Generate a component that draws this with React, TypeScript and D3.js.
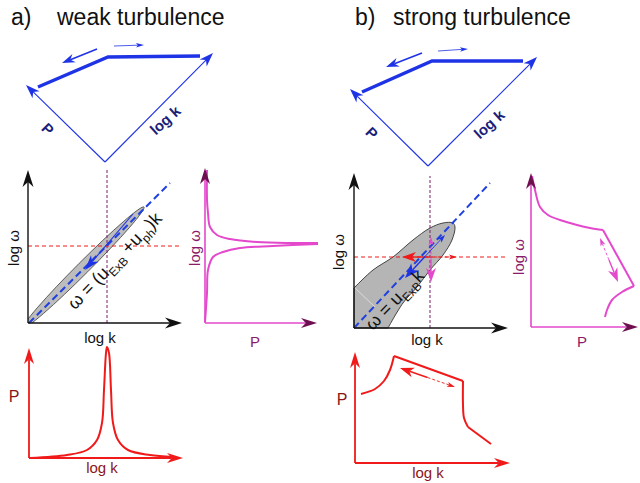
import React from "react";
import * as d3 from "d3";

type P = [number, number];

// ---------------- titles ----------------
const panelTags = ["a)", "b)"];
const panelTitles = ["weak turbulence", "strong turbulence"];

// ---------------- top panels (relative to lower vertex, x right, y up) ----------------
const topA_pTip: P = [-79, 77];
const topA_kTip: P = [108, 109];
const topA_spectrum: P[] = [[-67, 75], [3, 105], [95, 106]];
const topA_back: P[] = [[-8, 113], [-43, 99]];
const topA_fwd: P[] = [[9, 116], [39, 117]];

const topB_pTip: P = [-78, 77];
const topB_kTip: P = [109, 109];
const topB_spectrum: P[] = [[-66, 74], [4, 105], [95, 105]];
const topB_back: P[] = [[-6, 113], [-42, 99]];
const topB_fwd: P[] = [[10, 115], [40, 117]];

// ---------------- middle-left: dispersion (weak) ----------------
const midA_disp: P[] = [[1, 0], [142, 140]];
const midA_lensEnds: P[] = [[-5, -5], [116, 116]];
const midA_k0 = 79;
const midA_w0 = 77;
const midA_arrow: P[] = [[105, 109], [57, 53]];

// ---------------- P(omega) weak ----------------
const pwA_upper: P[] = [[2, 153], [2, 123], [3, 110], [5, 96], [12, 88], [25, 84], [52, 81], [85, 80], [113, 80]];
const pwA_lower: P[] = [[0, 1], [2, 30], [3, 53], [8, 66], [18, 71], [35, 75], [68, 77], [113, 79]];

// ---------------- P(k) weak ----------------
const pkA_curve: P[] = [[1, 0], [38, 3], [58, 8], [68, 18], [73, 35], [75, 68], [77, 105], [78, 111], [80, 105], [82, 68], [84, 35], [89, 18], [99, 8], [121, 3], [144, 1]];

// ---------------- middle-right: dispersion (strong) ----------------
const midB_disp: P[] = [[0, 0], [136, 145]];
const midB_lensUpper: P[] = [[0, 40], [19, 58], [39, 71], [59, 88], [76, 100], [89, 105], [99, 105], [101, 101]];
const midB_lensLower: P[] = [[101, 101], [98, 88], [89, 73], [76, 58], [63, 41], [49, 25], [34, 0]];
const midB_faint: P[] = [[1, 40], [21, 21]];
const midB_k0 = 76;
const midB_w0 = 71;
const midB_redL: P = [48, 71];
const midB_redR: P = [103, 71];
const midB_magDown: P = [77, 46];
const midB_magUp: P = [77, 91];
const midB_blueDown: P = [51, 50];
const midB_blueUp: P = [91, 93];

// ---------------- P(omega) strong ----------------
const pwB_top: P[] = [[1, 151], [4, 137], [9, 120], [17, 112], [29, 107], [46, 102], [59, 99], [72, 97]];
const pwB_edge: P[] = [[72, 97], [103, 41]];
const pwB_tail: P[] = [[103, 41], [91, 35], [81, 27], [76, 17], [74, 10]];
const pwB_arrow: P[] = [[69, 89], [87, 45]];

// ---------------- P(k) strong ----------------
const pkB_rise: P[] = [[6, 69], [20, 74], [29, 82], [35, 93], [39, 107]];
const pkB_slope: P[] = [[39, 107], [108, 82]];
const pkB_drop: P[] = [[108, 82], [108, 58], [109, 45], [113, 36]];
const pkB_tail: P[] = [[113, 36], [136, 19]];
const pkB_arrow: P[] = [[45, 95], [100, 76]];

// ---------------- style ----------------
const FONT = "'Liberation Sans', Arial, Helvetica, sans-serif";
const BLUE = "#1f33e6";
const NAVY = "#1c1f7a";
const PINK = "#e448cc";
const PURPLE = "#6e1050";
const PURPLE_TXT = "#8a1a6a";
const RED = "#f01a1a";
const DARKRED = "#8b1515";

function frame(ox: number, oy: number, xl: number, yl: number, xmin = 0, ymin = 0) {
  const x = d3.scaleLinear().domain([xmin, xl]).range([ox + xmin, ox + xl]);
  const y = d3.scaleLinear().domain([ymin, yl]).range([oy - ymin, oy - yl]);
  const pt = (p: P): P => [x(p[0]), y(p[1])];
  return { x, y, pt, ox, oy, xl, yl };
}

function headPath(from: P, to: P, L: number, hw: number, notch: number) {
  const dx = to[0] - from[0], dy = to[1] - from[1];
  const len = Math.hypot(dx, dy) || 1;
  const ux = dx / len, uy = dy / len;
  const px = -uy, py = ux;
  const bx = to[0] - ux * L, by = to[1] - uy * L;
  const nx = to[0] - ux * (L - notch), ny = to[1] - uy * (L - notch);
  const d = `M${to[0]},${to[1]}L${bx + px * hw},${by + py * hw}L${nx},${ny}L${bx - px * hw},${by - py * hw}Z`;
  return { d, end: [nx, ny] as P };
}

function Arrow(props: { from: P; to: P; color: string; width: number; L: number; hw: number; notch?: number; headColor?: string; dash?: string; noShaft?: boolean }) {
  const { from, to, color, width, L, hw } = props;
  const h = headPath(from, to, L, hw, props.notch ?? L * 0.3);
  return (
    <g>
      {!props.noShaft && (
        <line x1={from[0]} y1={from[1]} x2={h.end[0]} y2={h.end[1]} stroke={color} strokeWidth={width} strokeDasharray={props.dash} />
      )}
      <path d={h.d} fill={props.headColor ?? color} />
    </g>
  );
}

const curve = (f: ReturnType<typeof frame>, pts: P[]) =>
  d3.line<P>().x((d) => f.x(d[0])).y((d) => f.y(d[1])).curve(d3.curveCatmullRom.alpha(0.5))(pts) || "";
const straight = (f: ReturnType<typeof frame>, pts: P[]) =>
  d3.line<P>().x((d) => f.x(d[0])).y((d) => f.y(d[1]))(pts) || "";

function Axes(props: { f: ReturnType<typeof frame>; color: string; headColor: string; width: number; L: number; hw: number }) {
  const { f } = props;
  const o: P = [f.ox, f.oy];
  return (
    <g>
      <Arrow from={o} to={[f.ox, f.oy - f.yl]} color={props.color} headColor={props.headColor} width={props.width} L={props.L} hw={props.hw} />
      <Arrow from={o} to={[f.ox + f.xl, f.oy]} color={props.color} headColor={props.headColor} width={props.width} L={props.L} hw={props.hw} />
    </g>
  );
}

function TopPanel(props: { ox: number; oy: number; pTip: P; kTip: P; spectrum: P[]; back: P[]; fwd: P[]; pLabel: P; kLabel: P }) {
  const f = frame(props.ox, props.oy, 120, 130, -90, 0);
  const o = f.pt([0, 0]);
  return (
    <g>
      <Arrow from={o} to={f.pt(props.pTip)} color={BLUE} width={1.1} L={14} hw={5} notch={4} />
      <Arrow from={o} to={f.pt(props.kTip)} color={BLUE} width={1.1} L={14} hw={5} notch={4} />
      <path d={straight(f, props.spectrum)} fill="none" stroke={BLUE} strokeWidth={3.4} strokeLinejoin="miter" />
      <Arrow from={f.pt(props.back[0])} to={f.pt(props.back[1])} color={BLUE} width={1.6} L={13} hw={4.5} notch={4} />
      <Arrow from={f.pt(props.fwd[0])} to={f.pt(props.fwd[1])} color={BLUE} width={0.8} L={8} hw={2.2} notch={2} />
      <text transform={`translate(${f.x(props.pLabel[0])},${f.y(props.pLabel[1])}) rotate(45)`} textAnchor="middle" dominantBaseline="central" fontSize={15} fontWeight="bold" fill={NAVY}>P</text>
      <text transform={`translate(${f.x(props.kLabel[0])},${f.y(props.kLabel[1])}) rotate(-42)`} textAnchor="middle" dominantBaseline="central" fontSize={15} fontWeight="bold" fill={NAVY}>log k</text>
    </g>
  );
}

function doubleArrow(a: P, b: P, color: string, bigAtB: boolean, keyName: string, dash = "3,2") {
  const mid: P = [(a[0] + b[0]) / 2, (a[1] + b[1]) / 2];
  const bigTip = bigAtB ? b : a;
  const smallTip = bigAtB ? a : b;
  return (
    <g key={keyName}>
      <Arrow from={mid} to={smallTip} color={color} width={0.9} L={8} hw={2.6} notch={2} dash={dash} />
      <Arrow from={mid} to={bigTip} color={color} width={1.4} L={14} hw={5} notch={4} />
    </g>
  );
}

export default function App() {
  // layout frames
  const fMidA = frame(28, 323, 154, 153);
  const fPwA = frame(205, 323, 112, 155);
  const fPkA = frame(29, 458, 154, 110);
  const fMidB = frame(354, 328, 154, 155);
  const fPwB = frame(531, 327, 107, 154);
  const fPkB = frame(355, 463, 155, 111);

  // lens (weak)
  const l1 = fMidA.pt(midA_lensEnds[0]);
  const l2 = fMidA.pt(midA_lensEnds[1]);
  const lc: P = [(l1[0] + l2[0]) / 2, (l1[1] + l2[1]) / 2];
  const lAng = (Math.atan2(l2[1] - l1[1], l2[0] - l1[0]) * 180) / Math.PI;
  const lRx = Math.hypot(l2[0] - l1[0], l2[1] - l1[1]) / 2;

  // lens (strong)
  const lensB =
    (d3.line<P>().x((d) => fMidB.x(d[0])).y((d) => fMidB.y(d[1])).curve(d3.curveCatmullRom.alpha(0.5))([...midB_lensUpper, ...midB_lensLower.slice(1)]) || "") +
    `L${fMidB.x(0)},${fMidB.y(0)}Z`;

  const blueC: P = [(midB_blueDown[0] + midB_blueUp[0]) / 2, (midB_blueDown[1] + midB_blueUp[1]) / 2];

  return (
    <svg width={640} height={483} style={{ position: "absolute", left: 0, top: 0, background: "#fff" }} fontFamily={FONT}>
      {/* titles */}
      <text x={11} y={25} fontSize={23} fill="#111">{panelTags[0]}</text>
      <text x={57} y={25} fontSize={23} fill="#111">{panelTitles[0]}</text>
      <text x={355} y={25} fontSize={23} fill="#111">{panelTags[1]}</text>
      <text x={393} y={25} fontSize={23} fill="#111">{panelTitles[1]}</text>

      {/* top schematic panels */}
      <TopPanel ox={105} oy={162} pTip={topA_pTip} kTip={topA_kTip} spectrum={topA_spectrum} back={topA_back} fwd={topA_fwd} pLabel={[-57, 33]} kLabel={[60, 42]} />
      <TopPanel ox={428} oy={166} pTip={topB_pTip} kTip={topB_kTip} spectrum={topB_spectrum} back={topB_back} fwd={topB_fwd} pLabel={[-56, 33]} kLabel={[61, 42]} />

      {/* ---- middle-left: weak dispersion ---- */}
      <defs>
        <clipPath id="clipA">
          <rect x={fMidA.ox} y={fMidA.oy - fMidA.yl} width={fMidA.xl} height={fMidA.yl} />
        </clipPath>
      </defs>
      <g clipPath="url(#clipA)">
        <ellipse cx={lc[0]} cy={lc[1]} rx={lRx} ry={6} transform={`rotate(${lAng},${lc[0]},${lc[1]})`} fill="#bdbdbd" stroke="#444" strokeWidth={0.8} />
      </g>
      <line x1={fMidA.x(midA_k0)} y1={fMidA.y(0)} x2={fMidA.x(midA_k0)} y2={fMidA.y(155)} stroke="#7a1f6a" strokeWidth={1} strokeDasharray="3,2" />
      <line x1={fMidA.x(0)} y1={fMidA.y(midA_w0)} x2={fMidA.x(154)} y2={fMidA.y(midA_w0)} stroke={RED} strokeWidth={1} strokeDasharray="4,3" />
      <path d={straight(fMidA, midA_disp)} stroke="#2040e0" strokeWidth={2} strokeDasharray="7,4" fill="none" />
      <Arrow from={fMidA.pt(midA_arrow[0])} to={fMidA.pt(midA_arrow[1])} color={BLUE} width={1.1} L={15} hw={5} notch={4} />
      <Axes f={fMidA} color="#111" headColor="#111" width={1.4} L={17} hw={5.5} />
      <text transform={`translate(${fMidA.x(91)},${fMidA.y(58)}) rotate(-46)`} textAnchor="middle" fontSize={18} fill="#111">
        ω = (u<tspan fontSize={12} dy={5}>ExB</tspan>
        <tspan dy={-5}> +u</tspan>
        <tspan fontSize={12} dy={5}>ph</tspan>
        <tspan dy={-5}>)k</tspan>
      </text>
      <text transform="translate(13,248) rotate(-90)" textAnchor="middle" dominantBaseline="central" fontSize={15} fill="#111">log ω</text>
      <text x={100} y={343} textAnchor="middle" fontSize={15} fill="#111">log k</text>

      {/* ---- P(omega) weak ---- */}
      <path d={curve(fPwA, pwA_upper)} fill="none" stroke={PINK} strokeWidth={2} />
      <path d={curve(fPwA, pwA_lower)} fill="none" stroke={PINK} strokeWidth={2} />
      <Axes f={fPwA} color={PINK} headColor={PURPLE} width={1.6} L={16} hw={5} />
      <text transform="translate(194,248) rotate(-90)" textAnchor="middle" dominantBaseline="central" fontSize={15} fill={PURPLE_TXT}>log ω</text>
      <text x={255} y={347} textAnchor="middle" fontSize={15} fill={PURPLE_TXT}>P</text>

      {/* ---- P(k) weak ---- */}
      <path d={curve(fPkA, pkA_curve)} fill="none" stroke={RED} strokeWidth={2} />
      <Axes f={fPkA} color={RED} headColor={RED} width={1.8} L={16} hw={5} />
      <text x={14} y={402} textAnchor="middle" fontSize={16} fill={DARKRED}>P</text>
      <text x={102} y={473} textAnchor="middle" fontSize={15} fill={DARKRED}>log k</text>

      {/* ---- middle-right: strong dispersion ---- */}
      <path d={lensB} fill="#b5b5b5" stroke="#333" strokeWidth={0.9} />
      <path d={straight(fMidB, midB_faint)} stroke="#e4e4e4" strokeWidth={0.8} fill="none" />
      <line x1={fMidB.x(midB_k0)} y1={fMidB.y(0)} x2={fMidB.x(midB_k0)} y2={fMidB.y(152)} stroke="#7a1f6a" strokeWidth={1} strokeDasharray="3,2" />
      <line x1={fMidB.x(0)} y1={fMidB.y(midB_w0)} x2={fMidB.x(153)} y2={fMidB.y(midB_w0)} stroke={RED} strokeWidth={1} strokeDasharray="4,3" />
      <path d={straight(fMidB, midB_disp)} stroke="#2040e0" strokeWidth={2} strokeDasharray="7,4" fill="none" />
      {doubleArrow(fMidB.pt(midB_redR), fMidB.pt(midB_redL), RED, true, "red")}
      {doubleArrow(fMidB.pt(midB_magUp), fMidB.pt(midB_magDown), PINK, true, "mag")}
      <Arrow from={fMidB.pt(blueC)} to={fMidB.pt(midB_blueUp)} color={BLUE} width={0.9} L={8} hw={2.6} notch={2} />
      <Arrow from={fMidB.pt(blueC)} to={fMidB.pt(midB_blueDown)} color={BLUE} width={1.4} L={15} hw={5.5} notch={4} />
      <Axes f={fMidB} color="#111" headColor="#111" width={1.4} L={17} hw={5.5} />
      <text transform={`translate(${fMidB.x(45)},${fMidB.y(24)}) rotate(-46)`} textAnchor="middle" fontSize={18} fill="#111">
        ω = u<tspan fontSize={12} dy={5}>ExB</tspan>
        <tspan dy={-5}>k</tspan>
      </text>
      <text transform="translate(338,252) rotate(-90)" textAnchor="middle" dominantBaseline="central" fontSize={15} fill="#111">log ω</text>
      <text x={427} y={345} textAnchor="middle" fontSize={15} fill="#111">log k</text>

      {/* ---- P(omega) strong ---- */}
      <path d={curve(fPwB, pwB_top)} fill="none" stroke={PINK} strokeWidth={2} />
      <path d={straight(fPwB, pwB_edge)} fill="none" stroke={PINK} strokeWidth={2} />
      <path d={curve(fPwB, pwB_tail)} fill="none" stroke={PINK} strokeWidth={2} />
      {doubleArrow(fPwB.pt(pwB_arrow[0]), fPwB.pt(pwB_arrow[1]), PINK, true, "pw")}
      <Axes f={fPwB} color={PINK} headColor={PURPLE} width={1.6} L={16} hw={5} />
      <text transform="translate(518,257) rotate(-90)" textAnchor="middle" dominantBaseline="central" fontSize={15} fill={PURPLE_TXT}>log ω</text>
      <text x={582} y={347} textAnchor="middle" fontSize={15} fill={PURPLE_TXT}>P</text>

      {/* ---- P(k) strong ---- */}
      <path d={curve(fPkB, pkB_rise)} fill="none" stroke={RED} strokeWidth={2} />
      <path d={straight(fPkB, pkB_slope)} fill="none" stroke={RED} strokeWidth={2} />
      <path d={curve(fPkB, pkB_drop)} fill="none" stroke={RED} strokeWidth={2} />
      <path d={straight(fPkB, pkB_tail)} fill="none" stroke={RED} strokeWidth={2} />
      {doubleArrow(fPkB.pt(pkB_arrow[1]), fPkB.pt(pkB_arrow[0]), RED, true, "pk")}
      <Axes f={fPkB} color={RED} headColor={RED} width={1.8} L={16} hw={5} />
      <text x={342} y={405} textAnchor="middle" fontSize={16} fill={DARKRED}>P</text>
      <text x={428} y={478} textAnchor="middle" fontSize={15} fill={DARKRED}>log k</text>
    </svg>
  );
}
